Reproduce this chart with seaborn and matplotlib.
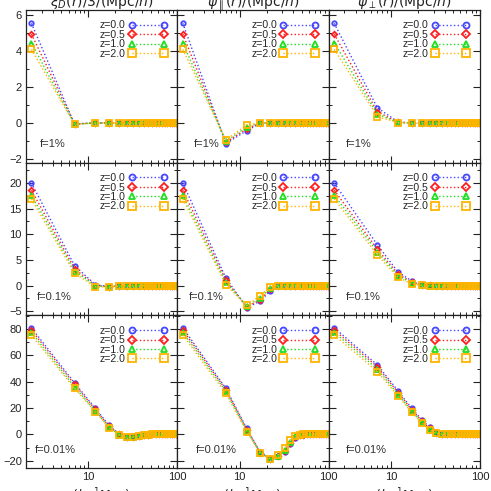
import numpy as np
import pandas as pd
import matplotlib
matplotlib.use('Agg')
import matplotlib.pyplot as plt
import matplotlib.ticker as mticker
import seaborn as sns

# separation bins (h^-1 Mpc)
r = [2.3, 7, 12, 17, 22, 27, 32, 37, 42, 47, 52, 57, 62, 67, 72, 77, 82, 87, 92, 97]

z_labels = ['z=0.0', 'z=0.5', 'z=1.0', 'z=2.0']
f_labels = ['f=1%', 'f=0.1%', 'f=0.01%']
titles = [r'$\xi_D(r)/3/({\rm Mpc}/h)$', r'$\psi_{\parallel}(r)/({\rm Mpc}/h)$', r'$\psi_{\perp}(r)/({\rm Mpc}/h)$']

# f = 1%
xiD_f1_z0 = [5.55, -0.05, 0, 0, 0, 0, 0, 0, 0, 0, 0, 0, 0, 0, 0, 0, 0, 0, 0, 0]
xiD_f1_z05 = [4.95, -0.05, 0, 0, 0, 0, 0, 0, 0, 0, 0, 0, 0, 0, 0, 0, 0, 0, 0, 0]
xiD_f1_z1 = [4.46, -0.06, 0, 0, 0, 0, 0, 0, 0, 0, 0, 0, 0, 0, 0, 0, 0, 0, 0, 0]
xiD_f1_z2 = [4.10, -0.08, 0, 0, 0, 0, 0, 0, 0, 0, 0, 0, 0, 0, 0, 0, 0, 0, 0, 0]
par_f1_z0 = [5.55, -1.15, -0.42, -0.02, 0, 0, 0, 0, 0, 0, 0, 0, 0, 0, 0, 0, 0, 0, 0, 0]
par_f1_z05 = [4.95, -1.08, -0.32, -0.01, 0, 0, 0, 0, 0, 0, 0, 0, 0, 0, 0, 0, 0, 0, 0, 0]
par_f1_z1 = [4.46, -1.02, -0.22, 0, 0, 0, 0, 0, 0, 0, 0, 0, 0, 0, 0, 0, 0, 0, 0, 0]
par_f1_z2 = [4.10, -0.95, -0.10, 0, 0, 0, 0, 0, 0, 0, 0, 0, 0, 0, 0, 0, 0, 0, 0, 0]
perp_f1_z0 = [5.55, 0.85, 0.06, 0, 0, 0, 0, 0, 0, 0, 0, 0, 0, 0, 0, 0, 0, 0, 0, 0]
perp_f1_z05 = [4.95, 0.63, 0.04, 0, 0, 0, 0, 0, 0, 0, 0, 0, 0, 0, 0, 0, 0, 0, 0, 0]
perp_f1_z1 = [4.46, 0.50, 0.03, 0, 0, 0, 0, 0, 0, 0, 0, 0, 0, 0, 0, 0, 0, 0, 0, 0]
perp_f1_z2 = [4.10, 0.36, 0.02, 0, 0, 0, 0, 0, 0, 0, 0, 0, 0, 0, 0, 0, 0, 0, 0, 0]

# f = 0.1%
xiD_f01_z0 = [20.0, 3.9, 0.15, -0.2, -0.08, 0, 0, 0, 0, 0, 0, 0, 0, 0, 0, 0, 0, 0, 0, 0]
xiD_f01_z05 = [18.6, 3.3, 0.0, -0.22, -0.08, 0, 0, 0, 0, 0, 0, 0, 0, 0, 0, 0, 0, 0, 0, 0]
xiD_f01_z1 = [17.6, 2.9, -0.1, -0.25, -0.1, 0, 0, 0, 0, 0, 0, 0, 0, 0, 0, 0, 0, 0, 0, 0]
xiD_f01_z2 = [16.9, 2.4, -0.3, -0.28, -0.1, 0, 0, 0, 0, 0, 0, 0, 0, 0, 0, 0, 0, 0, 0, 0]
par_f01_z0 = [20.0, 1.45, -4.3, -3.1, -1.05, -0.05, 0, 0, 0, 0, 0, 0, 0, 0, 0, 0, 0, 0, 0, 0]
par_f01_z05 = [18.6, 1.0, -4.15, -2.8, -0.75, -0.03, 0, 0, 0, 0, 0, 0, 0, 0, 0, 0, 0, 0, 0, 0]
par_f01_z1 = [17.6, 0.6, -4.0, -2.45, -0.5, -0.02, 0, 0, 0, 0, 0, 0, 0, 0, 0, 0, 0, 0, 0, 0]
par_f01_z2 = [16.9, 0.15, -3.9, -2.0, -0.2, 0, 0, 0, 0, 0, 0, 0, 0, 0, 0, 0, 0, 0, 0, 0]
perp_f01_z0 = [20.0, 7.95, 2.6, 0.9, 0.12, 0.02, 0, 0, 0, 0, 0, 0, 0, 0, 0, 0, 0, 0, 0, 0]
perp_f01_z05 = [18.6, 7.1, 2.2, 0.7, 0.08, 0.01, 0, 0, 0, 0, 0, 0, 0, 0, 0, 0, 0, 0, 0, 0]
perp_f01_z1 = [17.6, 6.6, 1.9, 0.5, 0.05, 0, 0, 0, 0, 0, 0, 0, 0, 0, 0, 0, 0, 0, 0, 0]
perp_f01_z2 = [16.9, 6.0, 1.57, 0.33, 0.03, 0, 0, 0, 0, 0, 0, 0, 0, 0, 0, 0, 0, 0, 0, 0]

# f = 0.01%
xiD_f001_z0 = [81.0, 39.2, 19.8, 7.1, 0.5, -2.0, -1.6, -0.9, -0.4, -0.1, 0, 0, 0, 0, 0, 0, 0, 0, 0, 0]
xiD_f001_z05 = [79.3, 38.0, 19.0, 6.4, 0.2, -2.1, -1.7, -0.9, -0.4, -0.1, 0, 0, 0, 0, 0, 0, 0, 0, 0, 0]
xiD_f001_z1 = [77.5, 36.2, 17.8, 5.6, -0.1, -2.2, -1.8, -1.0, -0.4, -0.1, 0, 0, 0, 0, 0, 0, 0, 0, 0, 0]
xiD_f001_z2 = [75.5, 35.0, 17.2, 5.0, -0.4, -2.3, -1.8, -1.0, -0.5, -0.1, 0, 0, 0, 0, 0, 0, 0, 0, 0, 0]
par_f001_z0 = [81.0, 35.0, 4.5, -13.5, -18.8, -16.8, -13.5, -7.5, -2.5, -0.6, -0.1, 0, 0, 0, 0, 0, 0, 0, 0, 0]
par_f001_z05 = [79.3, 34.0, 3.7, -13.8, -18.8, -16.5, -12.5, -6.5, -2.0, -0.5, -0.1, 0, 0, 0, 0, 0, 0, 0, 0, 0]
par_f001_z1 = [77.5, 32.8, 2.8, -14.0, -18.8, -16.3, -11.5, -5.5, -1.6, -0.4, -0.05, 0, 0, 0, 0, 0, 0, 0, 0, 0]
par_f001_z2 = [75.5, 31.1, 2.0, -14.2, -18.7, -16.0, -10.6, -4.4, -1.2, -0.3, 0, 0, 0, 0, 0, 0, 0, 0, 0, 0]
perp_f001_z0 = [81.0, 52.9, 33.0, 19.8, 11.3, 5.3, 1.6, 0.5, 0.1, 0, 0, 0, 0, 0, 0, 0, 0, 0, 0, 0]
perp_f001_z05 = [79.3, 51.5, 31.8, 18.8, 10.5, 4.6, 1.3, 0.4, 0.08, 0, 0, 0, 0, 0, 0, 0, 0, 0, 0, 0]
perp_f001_z1 = [77.5, 49.8, 30.4, 17.7, 9.7, 4.0, 1.1, 0.3, 0.05, 0, 0, 0, 0, 0, 0, 0, 0, 0, 0, 0]
perp_f001_z2 = [75.5, 47.8, 29.2, 16.7, 9.0, 3.3, 0.9, 0.2, 0.03, 0, 0, 0, 0, 0, 0, 0, 0, 0, 0, 0]

panels = [
    [[xiD_f1_z0, xiD_f1_z05, xiD_f1_z1, xiD_f1_z2],
     [par_f1_z0, par_f1_z05, par_f1_z1, par_f1_z2],
     [perp_f1_z0, perp_f1_z05, perp_f1_z1, perp_f1_z2]],
    [[xiD_f01_z0, xiD_f01_z05, xiD_f01_z1, xiD_f01_z2],
     [par_f01_z0, par_f01_z05, par_f01_z1, par_f01_z2],
     [perp_f01_z0, perp_f01_z05, perp_f01_z1, perp_f01_z2]],
    [[xiD_f001_z0, xiD_f001_z05, xiD_f001_z1, xiD_f001_z2],
     [par_f001_z0, par_f001_z05, par_f001_z1, par_f001_z2],
     [perp_f001_z0, perp_f001_z05, perp_f001_z1, perp_f001_z2]],
]

colors = ['#4646ff', '#ff1e1e', '#22dd22', '#ffb400']
markers = ['o', 'D', '^', 's']
msizes = [3.2, 2.8, 3.6, 3.8]
ylims = [(-2.2, 6.3), (-5.8, 24), (-25.5, 90.6)]
ymaj = [2, 5, 20]
ymin_ = [1, 2.5, 10]
ftext_x = [[0.09, 0.11, 0.11], [0.07, 0.075, 0.11], [0.06, 0.12, 0.11]]

sns.set_theme(style='ticks')
plt.rcParams['font.family'] = ['Liberation Sans', 'DejaVu Sans']
plt.rcParams['mathtext.fontset'] = 'dejavusans'

fig, axes = plt.subplots(3, 3, figsize=(4.91, 4.91), dpi=100, sharex=True)
fig.subplots_adjust(left=0.053, right=0.978, bottom=0.047, top=0.98, wspace=0, hspace=0)

for i in range(3):
    for j in range(3):
        ax = axes[i, j]
        for k in range(4):
            df = pd.DataFrame({'r': r, 'v': panels[i][j][k]})
            sns.lineplot(data=df, x='r', y='v', ax=ax, color=colors[k], linestyle=':', linewidth=1.0,
                         marker=markers[k], markersize=msizes[k], markerfacecolor='none',
                         markeredgecolor=colors[k], markeredgewidth=1.3, label=z_labels[k])
        ax.set_xscale('log')
        ax.set_xlim(2, 100)
        ax.set_ylim(*ylims[i])
        ax.set_xlabel('')
        ax.set_ylabel('')
        ax.yaxis.set_major_locator(mticker.MultipleLocator(ymaj[i]))
        ax.yaxis.set_minor_locator(mticker.MultipleLocator(ymin_[i]))
        ax.xaxis.set_major_locator(mticker.FixedLocator([10, 100]))
        ax.xaxis.set_minor_locator(mticker.FixedLocator([3, 4, 5, 6, 7, 8, 9, 20, 30, 40, 50, 60, 70, 80, 90]))
        ax.xaxis.set_major_formatter(mticker.FuncFormatter(lambda v, p: '%d' % v))
        ax.xaxis.set_minor_formatter(mticker.NullFormatter())
        ax.tick_params(which='both', direction='in', top=True, right=True, colors='#222222',
                       labelsize=8, pad=3)
        ax.tick_params(which='major', length=5, width=0.8)
        ax.tick_params(which='minor', length=2.5, width=0.7)
        if j > 0:
            ax.tick_params(labelleft=False)
        if i < 2:
            ax.tick_params(labelbottom=False)
        for s in ax.spines.values():
            s.set_linewidth(0.9)
            s.set_color('#222222')
        ax.legend(loc='upper right', frameon=False, numpoints=2, markerfirst=False, fontsize=7.6,
                  markerscale=1.35, handlelength=3.6, handletextpad=0.3, labelspacing=-0.05,
                  borderaxespad=0.6, borderpad=0.4)
        ax.text(ftext_x[i][j], 0.12, f_labels[i], transform=ax.transAxes, fontsize=8,
                va='center', ha='left', color='#333333')

col_centers = [(0.053 + 0.978) / 2 - (0.978 - 0.053) / 3 * c for c in (1, 0, -1)]
for j in range(3):
    fig.text(col_centers[j], 0.987, titles[j], ha='center', va='baseline', fontsize=10, color='#222222')
    fig.text(col_centers[j] - 0.01, 0.009, r'$r\ (h^{-1}{\rm Mpc})$', ha='center', va='top', fontsize=9,
             color='#222222')

fig.savefig('out.png', dpi=100)
